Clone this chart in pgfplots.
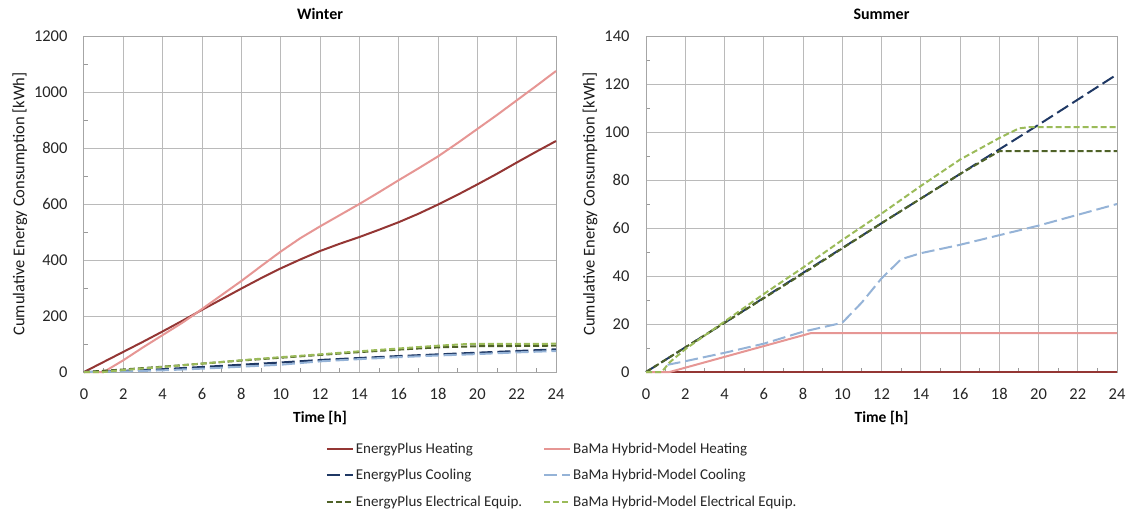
\documentclass[border=0pt]{standalone}
\usepackage{pgfplots}
\pgfplotsset{compat=1.18}
\usepackage{fontspec}
\setmainfont{Carlito}
\definecolor{ephc}{HTML}{943634}
\definecolor{bahc}{RGB}{230,150,148}
\definecolor{epcc}{HTML}{1F3864}
\definecolor{bacc}{HTML}{95B3D7}
\definecolor{epec}{HTML}{4F6228}
\definecolor{baec}{HTML}{9BBB59}
\pgfplotsset{
  panel/.style={
    scale only axis, width=471pt, height=336pt, anchor=south west,
    xmin=0, xmax=24, ymin=0,
    xtick={0,2,...,24}, minor x tick num=1, minor y tick num=1,
    grid=major, major grid style={color=black!27, line width=1pt},
    axis line style={color=black!35, line width=1pt},
    tick pos=left, tick align=inside,
    major tick length=0pt, minor tick length=4pt,
    minor tick style={color=black!40, line width=0.8pt},
    /pgf/number format/assume math mode=true,
    /pgf/number format/1000 sep={},
    ticklabel style={font=\fontsize{16.5}{19}\selectfont, text=black!85},
    xticklabel style={yshift=-13pt},
    yticklabel style={xshift=-13pt},
    title style={font=\fontsize{16}{19}\selectfont\bfseries, at={(axis description cs:0.5,1)}, anchor=center, yshift=16pt},
    xlabel style={font=\fontsize{15.5}{18}\selectfont\bfseries, at={(axis description cs:0.5,0)}, anchor=center, yshift=-46pt},
    ylabel style={font=\fontsize{16.5}{19}\selectfont, text=black!90},
    xlabel={Time [h]}, ylabel={Cumulative Energy Consumption [kWh]},
    clip=false,
  },
  eph/.style={color=ephc, line width=2pt},
  bah/.style={color=bahc, line width=2pt},
  epc/.style={color=epcc, line width=2pt, dash pattern=on 13pt off 5pt},
  bac/.style={color=bacc, line width=2pt, dash pattern=on 13pt off 5pt},
  epe/.style={color=epec, line width=2pt, dash pattern=on 6pt off 3pt},
  bae/.style={color=baec, line width=2pt, dash pattern=on 6pt off 3pt},
}
\begin{document}
\begin{tikzpicture}
\useasboundingbox (0pt,0pt) rectangle (1130pt,-512pt);
\begin{axis}[panel, at={(84pt,-372pt)}, width=472pt, ymax=1200, ytick={0,200,...,1200},
  title={Winter},
  legend columns=2,
  legend cell align=left,
  legend style={draw=none, fill=none, at={(axis description cs:0.512,-0.205)}, anchor=north west,
    font=\fontsize{15}{18}\selectfont, text=black!85, row sep=10.5pt, inner sep=0pt,
    /tikz/every even column/.append style={column sep=19pt}},
  legend image code/.code={\draw[#1] (0pt,0pt) -- (26pt,0pt);},
]
\addplot[eph] coordinates {(0,0) (1,36) (2,72) (3,108) (4,145) (5,183) (6,222) (7,260) (8,298) (9,335) (10,370) (11,402) (12,432) (13,458) (14,482) (15,508) (16,535) (17,565) (18,598) (19,633) (20,670) (21,708) (22,748) (23,787) (24,825)};
\addlegendentry{EnergyPlus Heating}
\addplot[bah] coordinates {(0,0) (1,0) (2,42) (3,88) (4,132) (5,176) (5.5,200) (6,225) (7,275) (8,325) (9,378) (10,430) (11,478) (12,520) (13,560) (14,600) (15,642) (16,685) (17,727) (18,770) (19,818) (20,868) (21,918) (22,970) (23,1022) (24,1075)};
\addlegendentry{BaMa Hybrid-Model Heating}
\addplot[epc] coordinates {(0,0) (2,4) (4,10) (6,18) (8,26) (10,34) (12,43) (14,50) (16,57) (18,63) (20,69) (22,75) (24,81)};
\addlegendentry{EnergyPlus Cooling}
\addplot[bac] coordinates {(0,0) (2,2) (4,6) (6,12) (8,19) (10,26) (12,38) (14,46) (16,53) (18,59) (20,64) (22,70) (24,75)};
\addlegendentry{BaMa Hybrid-Model Cooling}
\addplot[epe] coordinates {(0,0) (2,9) (4,19) (6,30) (8,41) (10,51) (12,61) (14,71) (16,80) (18,88) (20,92) (24,94)};
\addlegendentry{EnergyPlus Electrical Equip.}
\addplot[bae] coordinates {(0,0) (1,0) (2,7) (4,18) (6,30) (8,42) (10,53) (12,63) (14,74) (16,84) (18,94) (19.5,100) (24,101)};
\addlegendentry{BaMa Hybrid-Model Electrical Equip.}
\end{axis}
\begin{axis}[panel, at={(646pt,-372pt)}, width=471pt, ymax=140, ytick={0,20,...,140},
  title={Summer}]
\addplot[eph] coordinates {(0,0) (24,0)};
\addplot[bah] coordinates {(0,0) (1.2,0) (8.4,16.2) (24,16.2)};
\addplot[epc] coordinates {(0,0) (4,20.5) (8,41.3) (12,62) (16,82.5) (20,103) (24,124)};
\addplot[bac] coordinates {(1.1,3) (2,4.5) (4,8) (6,11.8) (8,16.8) (10,20.5) (11,29) (12,39) (13,47) (14,49.5) (16,53) (18,57) (20,61) (22,65.5) (24,70)};
\addplot[epe] coordinates {(0,0) (4,20.5) (8,41) (12,62) (16,82.5) (18,92) (24,92)};
\addplot[bae] coordinates {(0,0) (0.8,0) (1.2,4) (2,9.5) (4,21) (6,32.5) (8,43.5) (10,55) (12,66) (14,77.5) (16,88.5) (18,97.5) (19,101.5) (19.5,102) (24,102)};
\end{axis}
\end{tikzpicture}
\end{document}
